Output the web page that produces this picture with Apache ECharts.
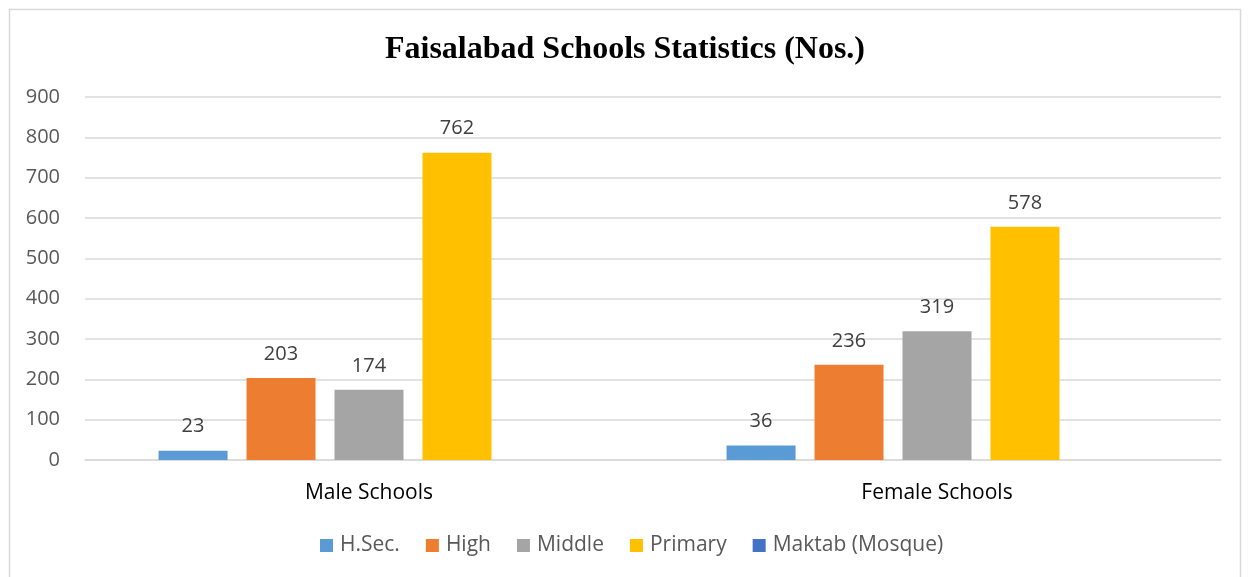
<!DOCTYPE html>
<html>
<head>
<meta charset="utf-8">
<script src="https://cdn.jsdelivr.net/npm/echarts@6/dist/echarts.min.js"></script>
<style>
  html, body { margin: 0; padding: 0; background: #fff; }
  #chart { width: 1250px; height: 577px; }
</style>
</head>
<body>
<div id="chart"></div>
<script>
const categories = ["Male Schools", "Female Schools"];
const seriesNames = ["H.Sec.", "High", "Middle", "Primary", "Maktab (Mosque)"];
const hSec = [23, 36];
const high = [203, 236];
const middle = [174, 319];
const primary = [762, 578];
const maktab = [null, null];
const colors = ["#5B9BD5", "#ED7D31", "#A5A5A5", "#FFC000", "#4472C4"];

const font = "'Open Sans', 'Noto Sans', sans-serif";
const values = [hSec, high, middle, primary, maktab];

const chart = echarts.init(document.getElementById("chart"));
chart.setOption({
  animation: false,
  color: colors,
  title: {
    text: "Faisalabad Schools Statistics (Nos.)",
    left: "center",
    top: 29,
    textStyle: {
      fontFamily: "'Liberation Serif', 'Times New Roman', serif",
      fontWeight: "bold",
      fontSize: 32,
      color: "#000"
    }
  },
  graphic: [{
    type: "rect",
    left: 7,
    top: 7,
    shape: { width: 1231, height: 590 },
    style: { fill: "none", stroke: "#d9d9d9", lineWidth: 1.5 },
    silent: true
  }],
  legend: {
    bottom: 16,
    left: 315,
    itemWidth: 13,
    itemHeight: 13,
    itemGap: 26,
    icon: "rect",
    textStyle: { fontFamily: font, fontSize: 21, color: "#595959", padding: [0, 0, 0, 2] },
    data: seriesNames
  },
  grid: { left: 85, right: 29, top: 97, bottom: 117, containLabel: false },
  xAxis: {
    type: "category",
    data: categories,
    axisTick: { show: false },
    axisLine: { lineStyle: { color: "#d9d9d9", width: 1.5 } },
    axisLabel: { fontFamily: font, fontSize: 21, color: "#000", margin: 23 }
  },
  yAxis: {
    type: "value",
    min: 0,
    max: 900,
    interval: 100,
    axisLine: { show: false },
    axisTick: { show: false },
    splitLine: { lineStyle: { color: "#d9d9d9", width: 1.5 } },
    axisLabel: { fontFamily: font, fontSize: 20, color: "#595959", margin: 25 }
  },
  series: seriesNames.map((name, i) => ({
    name: name,
    type: "bar",
    data: values[i],
    barWidth: 69,
    barGap: "27.5%",
    label: {
      show: true,
      position: "top",
      distance: 14,
      fontFamily: font,
      fontSize: 20,
      color: "#404040"
    }
  }))
});
</script>
</body>
</html>
